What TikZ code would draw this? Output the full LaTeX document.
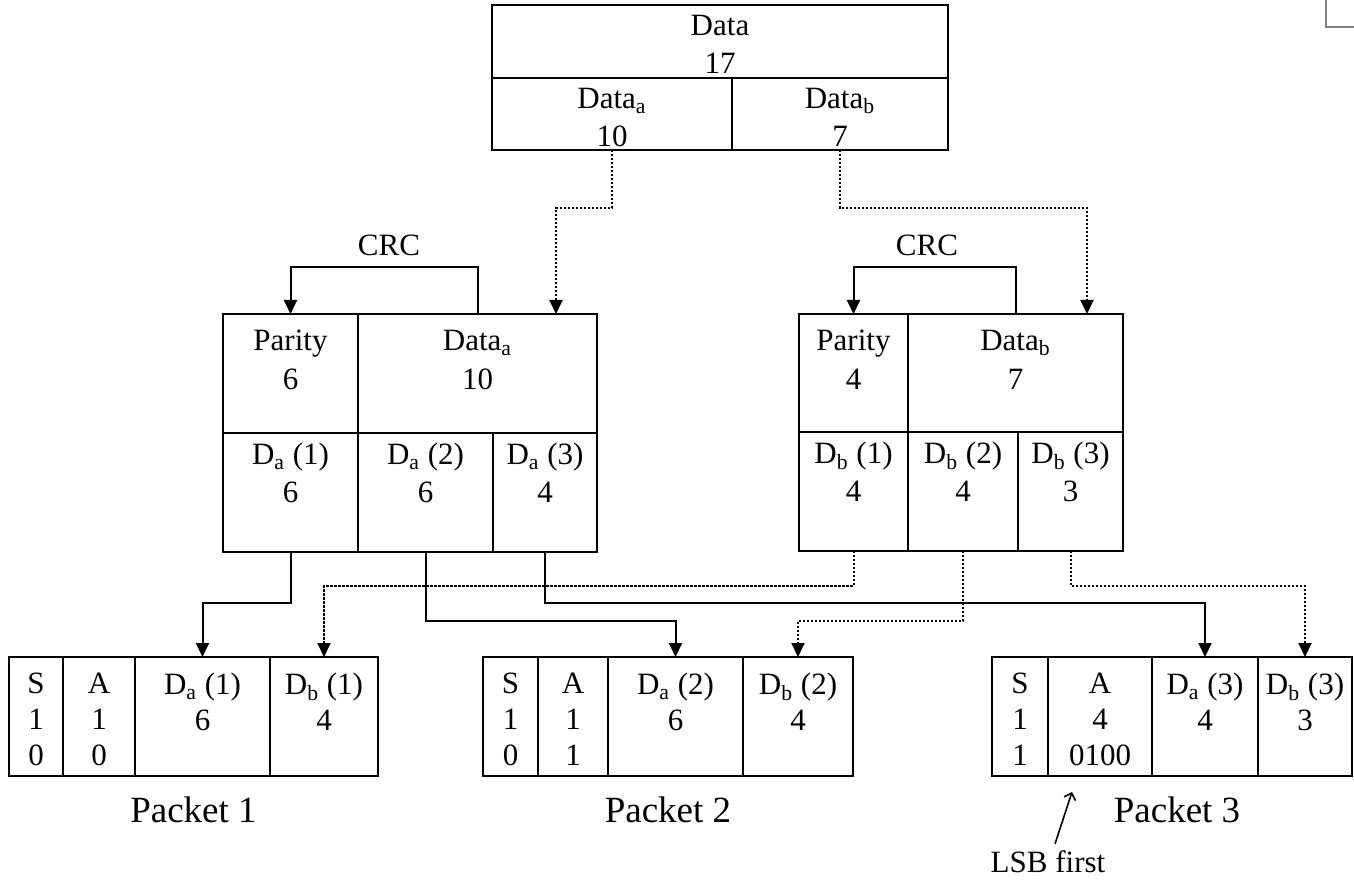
\documentclass[tikz,border=0pt]{standalone}
\usepackage{fontspec}
\setmainfont{Liberation Serif}
\usetikzlibrary{arrows.meta,positioning,calc}

\begin{document}
\begin{tikzpicture}[
  x=0.5pt, y=-0.5pt,
  cell/.style 2 args = {rectangle, draw, line width=1.35pt, anchor=north west,
                 inner sep=0pt, outer sep=0pt,
                 minimum width=#1*0.5pt, minimum height=#2*0.5pt},
  txt/.style  = {anchor=north, inner sep=0pt, yshift=-5pt, align=center,
                 font=\fontsize{15.5}{19}\selectfont},
  mtxt/.style = {txt, yshift=-3pt, font=\fontsize{15.5}{19.5}\selectfont},
  ptxt/.style = {txt, yshift=-3pt, font=\fontsize{15.5}{18}\selectfont},
  arr/.style  = {-{Triangle[length=7pt,width=6.5pt]}, line width=1pt},
  dotarr/.style = {arr, dash pattern=on 1.2pt off 0.8pt},
  lbl/.style  = {font=\fontsize{15.5}{19}\selectfont},
  pkt/.style  = {font=\fontsize{18.5}{22}\selectfont},
]
\useasboundingbox (0,0) rectangle (1354,887);

% source data
\node[cell={456}{73}, label={[txt]north:{Data\\17}}] (data) at (492,5) {};
\node[cell={240}{72}, label={[txt]north:{Data\textsubscript{a}\\10}}] (dataa) at (492,78) {};
\node[cell={216}{72}, label={[txt]north:{Data\textsubscript{b}\\7}}] (datab) at (732,78) {};

% block a
\node[cell={135}{119}, label={[mtxt]north:{Parity\\6}}] (lpar) at (223,314) {};
\node[cell={239}{119}, label={[mtxt]north:{Data\textsubscript{a}\\10}}] (ldata) at (358,314) {};
\node[cell={135}{119}, label={[txt]north:{D\textsubscript{a} (1)\\6}}] (lda1) at (223,433) {};
\node[cell={135}{119}, label={[txt]north:{D\textsubscript{a} (2)\\6}}] (lda2) at (358,433) {};
\node[cell={104}{119}, label={[txt]north:{D\textsubscript{a} (3)\\4}}] (lda3) at (493,433) {};

% block b
\node[cell={109}{118}, label={[mtxt]north:{Parity\\4}}] (rpar) at (799,314) {};
\node[cell={215}{118}, label={[mtxt]north:{Data\textsubscript{b}\\7}}] (rdata) at (908,314) {};
\node[cell={109}{119}, label={[txt]north:{D\textsubscript{b} (1)\\4}}] (rdb1) at (799,432) {};
\node[cell={110}{119}, label={[txt]north:{D\textsubscript{b} (2)\\4}}] (rdb2) at (908,432) {};
\node[cell={105}{119}, label={[txt]north:{D\textsubscript{b} (3)\\3}}] (rdb3) at (1018,432) {};

% packets
\node[cell={54}{119},  label={[ptxt]north:{S\\1\\0}}] (p1s) at (9,657) {};
\node[cell={72}{119},  label={[ptxt]north:{A\\1\\0}}] (p1a) at (63,657) {};
\node[cell={135}{119}, label={[ptxt]north:{D\textsubscript{a} (1)\\6}}] (p1da) at (135,657) {};
\node[cell={108}{119}, label={[ptxt]north:{D\textsubscript{b} (1)\\4}}] (p1db) at (270,657) {};

\node[cell={55}{119},  label={[ptxt]north:{S\\1\\0}}] (p2s) at (483,657) {};
\node[cell={70}{119},  label={[ptxt]north:{A\\1\\1}}] (p2a) at (538,657) {};
\node[cell={135}{119}, label={[ptxt]north:{D\textsubscript{a} (2)\\6}}] (p2da) at (608,657) {};
\node[cell={110}{119}, label={[ptxt]north:{D\textsubscript{b} (2)\\4}}] (p2db) at (743,657) {};

\node[cell={56}{119},  label={[ptxt]north:{S\\1\\1}}] (p3s) at (992,657) {};
\node[cell={104}{119}, label={[ptxt]north:{A\\4\\0100}}] (p3a) at (1048,657) {};
\node[cell={106}{119}, label={[ptxt]north:{D\textsubscript{a} (3)\\4}}] (p3da) at (1152,657) {};
\node[cell={94}{119},  label={[ptxt]north:{D\textsubscript{b} (3)\\3}}] (p3db) at (1258,657) {};

\node[pkt] (pk1) at ($(p1s.south west)!0.5!(p1db.south east)+(0,34)$) {Packet 1};
\node[pkt] (pk2) at ($(p2s.south west)!0.5!(p2db.south east)+(0,34)$) {Packet 2};
\node[pkt] (pk3) at ($(p3s.south west)!0.5!(p3db.south east)+(5,34)$) {Packet 3};

\node[lbl] (crcl) at (389,245) {CRC};
\node[lbl] (crcr) at (927,245) {CRC};
\node[lbl] (lsb)  at (1048,862) {LSB first};
\coordinate (lsbtip) at (1072,792);

% split
\draw[dotarr] (dataa.south) -- ++(0,58) -| ([xshift=-20.5pt]ldata.north east);
\draw[dotarr] (datab.south) -- ++(0,58) -| ([xshift=-18pt]rdata.north east);

% crc
\draw[arr] (ldata.north) -- ++(0,-47) -| (lpar.north);
\draw[arr] (rdata.north) -- ++(0,-47) -| (rpar.north);

% into packets
\draw[arr] (lda1.south) -- ++(0,51) -| (p1da.north);
\draw[arr] (lda2.south) -- ++(0,69) -| (p2da.north);
\draw[arr] (lda3.south) -- ++(0,51) -| (p3da.north);
\draw[dotarr] (rdb1.south) -- ++(0,35) -| (p1db.north);
\draw[dotarr] (rdb2.south) -- ++(0,70) -| (p2db.north);
\draw[dotarr] (rdb3.south) -- ++(0,35) -| (p3db.north);

\draw[-{Straight Barb[length=3pt,width=6pt]}, line width=0.8pt]
  ([xshift=3.5pt]lsb.north) -- (lsbtip);

\draw[gray, line width=1pt] (1326,0) -- (1326,27) -- (1354,27);
\end{tikzpicture}
\end{document}
